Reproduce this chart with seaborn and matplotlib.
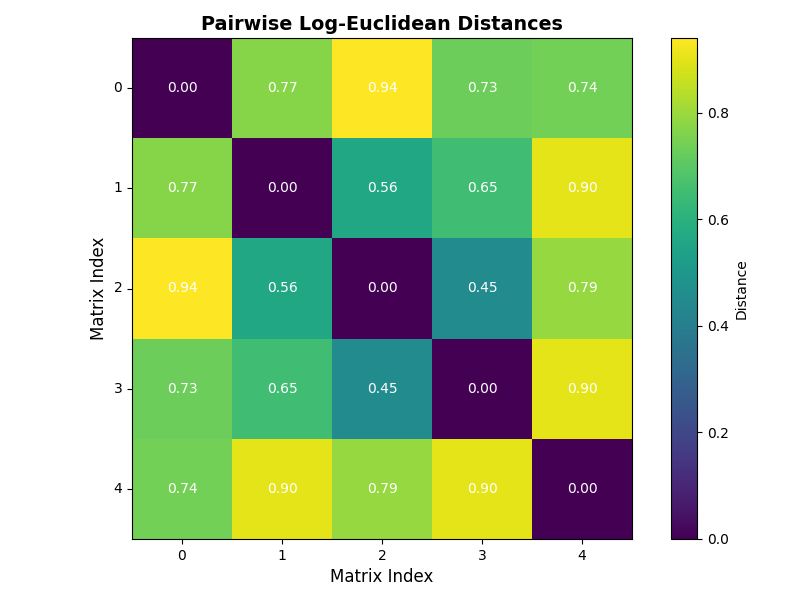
import matplotlib
matplotlib.use("Agg")
import matplotlib.pyplot as plt
import seaborn as sns
import numpy as np
import pandas as pd

labels = ["0", "1", "2", "3", "4"]
row0 = [0.00, 0.77, 0.94, 0.73, 0.74]
row1 = [0.77, 0.00, 0.56, 0.65, 0.90]
row2 = [0.94, 0.56, 0.00, 0.45, 0.79]
row3 = [0.73, 0.65, 0.45, 0.00, 0.90]
row4 = [0.74, 0.90, 0.79, 0.90, 0.00]

df = pd.DataFrame([row0, row1, row2, row3, row4], index=labels, columns=labels)

fig = plt.figure(figsize=(8, 6), dpi=100)
ax = fig.add_axes([132/800, 61/600, 500/800, 501/600])
cax = fig.add_axes([671/800, 61/600, 26/800, 501/600])
sns.heatmap(df, ax=ax, cbar_ax=cax, cmap="viridis", annot=True, fmt=".2f",
            annot_kws={"color": "white", "fontsize": 10},
            square=False, cbar_kws={"label": "Distance"}, vmin=0)
for s in ax.spines.values():
    s.set_visible(True)
    s.set_linewidth(0.8)
ax.tick_params(left=True, bottom=True, length=3.5)
ax.set_yticklabels(labels, rotation=0)
ax.set_xticklabels(labels, rotation=0)
cb = ax.collections[0].colorbar
cb.outline.set_linewidth(0.8)
cb.outline.set_visible(True)
cb.set_ticks([0.0, 0.2, 0.4, 0.6, 0.8])
ax.set_title("Pairwise Log-Euclidean Distances", fontsize=13.8, fontweight="bold")
ax.set_xlabel("Matrix Index", fontsize=12)
ax.set_ylabel("Matrix Index", fontsize=12)
fig.savefig("out.png", dpi=100)
